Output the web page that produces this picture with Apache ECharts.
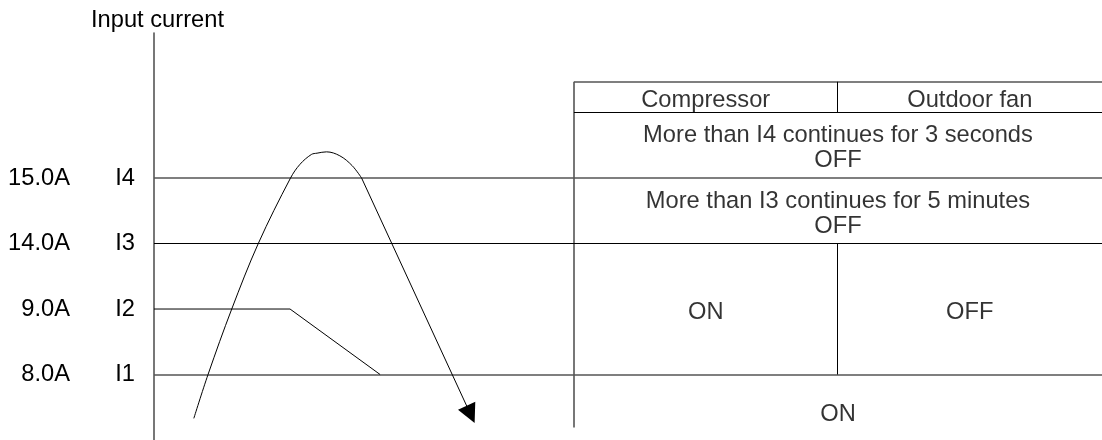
<!DOCTYPE html>
<html><head><meta charset="utf-8">
<script src="https://cdn.jsdelivr.net/npm/echarts@6/dist/echarts.min.js"></script>
<style>html,body{margin:0;padding:0;background:#fff}#c{width:1102px;height:440px}</style>
</head><body><div id="c"></div>
<script>
// ---- data (schematic units: x = time 0..100, y = current level) ----
const levelValues = [1, 2, 3, 4];
const levelNames = ['I1', 'I2', 'I3', 'I4'];
const levelCurrents = ['8.0A', '9.0A', '14.0A', '15.0A'];
const axisTitle = 'Input current';

const riseX = [4.2, 5.7, 8.2, 11.0, 14.4, 15.4, 16.6, 17.2, 18.2, 19.6, 20.9, 21.9];
const riseY = [0.33, 1.0, 2.0, 3.0, 4.0, 4.21, 4.36, 4.38, 4.4, 4.34, 4.19, 4.0];
const fallX = [21.9, 33.4];
const fallY = [4.0, 0.39];
const i2LimitX = [0, 14.35, 23.85];
const i2LimitY = [2, 2, 1];
const strongLevels = [4, 1];
const thinLevels = [3];

const tableCols = [44.3, 72.1, 100];
const tableRowsY = [5.47, 5.0, 4, 3, 1, 0.19];
const headerLabels = ['Compressor', 'Outdoor fan'];
const rowLabels = ['More than I4 continues for 3 seconds\nOFF', 'More than I3 continues for 5 minutes\nOFF'];
const midRowLabels = ['ON', 'OFF'];
const bottomLabel = 'ON';
const bottomLabelY = 0.44;

// ---- build ----
const FONT = 'Liberation Sans';
const FS = 23.7;
const black = '#000';
const grey = '#555';

const strongSegs = [];
strongLevels.forEach(l => strongSegs.push({coords: [[0, l], [100, l]]}));
strongSegs.push({coords: [[tableCols[0], tableRowsY[0]], [tableCols[2], tableRowsY[0]]]});
strongSegs.push({coords: [[tableCols[0], tableRowsY[5]], [tableCols[0], tableRowsY[0]]]});

const thinSegs = [];
thinLevels.forEach(l => thinSegs.push({coords: [[0, l], [100, l]]}));
thinSegs.push({coords: [[tableCols[0], tableRowsY[1]], [tableCols[2], tableRowsY[1]]]});
thinSegs.push({coords: [[tableCols[1], tableRowsY[1]], [tableCols[1], tableRowsY[0]]]});
thinSegs.push({coords: [[tableCols[1], tableRowsY[4]], [tableCols[1], tableRowsY[3]]]});

const mid = (a, b) => (a + b) / 2;
const texts = [
  {value: [mid(tableCols[0], tableCols[1]), mid(tableRowsY[0], tableRowsY[1])], text: headerLabels[0]},
  {value: [mid(tableCols[1], tableCols[2]), mid(tableRowsY[0], tableRowsY[1])], text: headerLabels[1]},
  {value: [mid(tableCols[0], tableCols[2]), mid(tableRowsY[1], tableRowsY[2])], text: rowLabels[0]},
  {value: [mid(tableCols[0], tableCols[2]), mid(tableRowsY[2], tableRowsY[3])], text: rowLabels[1]},
  {value: [mid(tableCols[0], tableCols[1]), mid(tableRowsY[3], tableRowsY[4])], text: midRowLabels[0]},
  {value: [mid(tableCols[1], tableCols[2]), mid(tableRowsY[3], tableRowsY[4])], text: midRowLabels[1]},
  {value: [mid(tableCols[0], tableCols[2]), bottomLabelY], text: bottomLabel}
];

const chart = echarts.init(document.getElementById('c'), null, {renderer: 'canvas'});
const labelStyle = {fontSize: FS, color: black, fontFamily: FONT};
chart.setOption({
  animation: false,
  backgroundColor: '#fff',
  grid: {left: 154, right: 0, top: 33, bottom: -2.6, containLabel: false},
  xAxis: {type: 'value', min: 0, max: 100, show: false},
  yAxis: [
    {
      type: 'value', min: 0, max: 6.215, position: 'left',
      axisLine: {show: true, lineStyle: {color: grey, width: 1.6}},
      axisTick: {show: false}, splitLine: {show: false},
      axisLabel: Object.assign({customValues: levelValues, margin: 84,
        formatter: v => levelCurrents[levelValues.indexOf(v)]}, labelStyle),
      name: axisTitle, nameLocation: 'end', nameGap: 1,
      nameTextStyle: Object.assign({align: 'center', padding: [0, 0, 0, 7]}, labelStyle)
    },
    {
      type: 'value', min: 0, max: 6.215, position: 'left',
      axisLine: {show: false}, axisTick: {show: false}, splitLine: {show: false},
      axisLabel: Object.assign({customValues: levelValues, margin: 19,
        formatter: v => levelNames[levelValues.indexOf(v)]}, labelStyle)
    }
  ],
  series: [
    {type: 'lines', coordinateSystem: 'cartesian2d', silent: true, data: strongSegs,
     lineStyle: {color: grey, width: 1.6, opacity: 1}},
    {type: 'lines', coordinateSystem: 'cartesian2d', silent: true, data: thinSegs,
     lineStyle: {color: black, width: 1, opacity: 1}},
    {type: 'line', silent: true, data: i2LimitX.map((x, i) => [x, i2LimitY[i]]),
     symbol: 'none', lineStyle: {color: black, width: 1}},
    {type: 'line', silent: true, data: riseX.map((x, i) => [x, riseY[i]]), smooth: 0.35,
     symbol: 'none', lineStyle: {color: black, width: 1}},
    {type: 'lines', coordinateSystem: 'cartesian2d', silent: true,
     data: [{coords: [[fallX[0], fallY[0]], [fallX[1], fallY[1]]]}],
     symbol: ['none', 'triangle'], symbolSize: 19,
     lineStyle: {color: black, width: 1, opacity: 1}, itemStyle: {color: black}},
    {type: 'scatter', silent: true, symbolSize: 0, data: texts,
     label: Object.assign({show: true, position: 'inside', lineHeight: 25, offset: [0, 3],
       formatter: p => p.data.text}, labelStyle)}
  ]
});
</script></body></html>
